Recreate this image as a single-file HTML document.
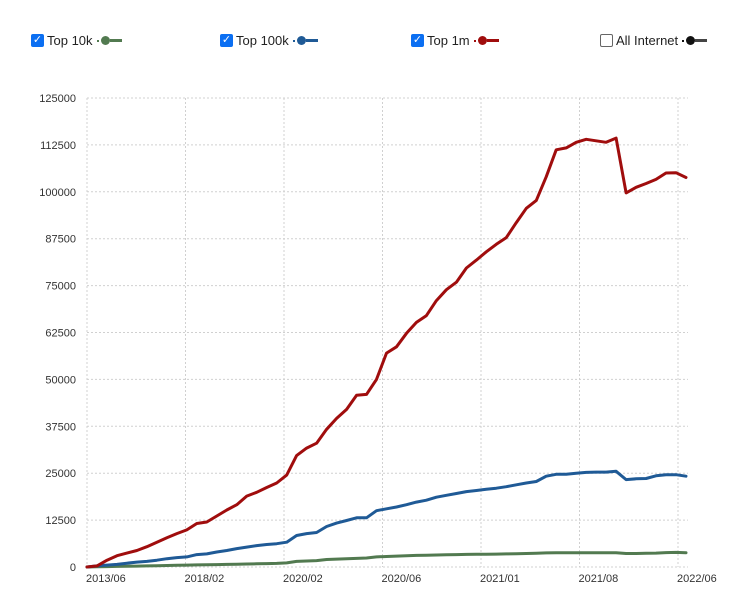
<!DOCTYPE html>
<html><head><meta charset="utf-8">
<style>
body{margin:0;background:#fff;width:749px;height:612px;overflow:hidden;font-family:"Liberation Sans",sans-serif;}
.leg{position:absolute;top:33px;font-size:13px;color:#222;display:flex;align-items:center;}
.cb{width:13px;height:13px;border-radius:2px;margin-right:3px;box-sizing:border-box;display:inline-flex;align-items:center;justify-content:center;color:#fff;font-size:11px;line-height:1}
.on{background:#0b6ff2;}
.off{border:1px solid #666;background:#fff;}
.mk{display:inline-flex;align-items:center;margin-left:4px}
.mk i{display:inline-block}
</style></head><body>
<div class="leg" style="left:31px"><span class="cb on">✓</span>Top 10k<span class="mk"><i style="width:2px;height:2px;background:#527a50"></i><i style="width:9px;height:9px;border-radius:50%;background:#527a50;margin-left:2px"></i><i style="width:12px;height:3px;background:#527a50"></i></span></div>
<div class="leg" style="left:220px"><span class="cb on">✓</span>Top 100k<span class="mk"><i style="width:2px;height:2px;background:#1f5a96"></i><i style="width:9px;height:9px;border-radius:50%;background:#1f5a96;margin-left:2px"></i><i style="width:12px;height:3px;background:#1f5a96"></i></span></div>
<div class="leg" style="left:411px"><span class="cb on">✓</span>Top 1m<span class="mk"><i style="width:2px;height:2px;background:#a00d0d"></i><i style="width:9px;height:9px;border-radius:50%;background:#a00d0d;margin-left:2px"></i><i style="width:12px;height:3px;background:#a00d0d"></i></span></div>
<div class="leg" style="left:600px"><span class="cb off"></span>All Internet<span class="mk"><i style="width:2px;height:2px;background:#111"></i><i style="width:9px;height:9px;border-radius:50%;background:#111;margin-left:2px"></i><i style="width:12px;height:3px;background:#444"></i></span></div>
<svg id="chart" width="749" height="612" style="position:absolute;left:0;top:0"></svg>
<script>
const yTicks=[0,12500,25000,37500,50000,62500,75000,87500,100000,112500,125000];
const xTickLabels=["2013/06","2018/02","2020/02","2020/06","2021/01","2021/08","2022/06"];
const top1m=[0,300,1800,3000,3700,4400,5400,6600,7800,8900,9900,11600,12000,13600,15200,16600,18900,19900,21200,22400,24500,29700,31700,33000,36700,39600,42000,45800,46000,50000,57000,58700,62300,65200,67000,71000,73900,75900,79700,81800,84000,86000,87800,91800,95600,97700,104000,111200,111700,113200,114000,113600,113200,114300,99700,101200,102200,103300,105000,105100,103800];
const top100k=[0,300,500,700,1000,1300,1500,1800,2200,2500,2700,3300,3500,4000,4400,4900,5300,5700,6000,6200,6600,8400,8900,9200,10800,11700,12400,13100,13100,15000,15500,16000,16600,17300,17800,18600,19100,19600,20100,20400,20700,21000,21400,21900,22400,22800,24200,24700,24700,25000,25200,25300,25300,25500,23300,23500,23600,24300,24600,24600,24200];
const top10k=[0,50,100,150,200,250,300,350,400,450,500,550,600,650,700,750,800,850,900,950,1100,1500,1600,1700,2000,2100,2200,2300,2400,2700,2800,2900,3000,3100,3150,3200,3250,3300,3350,3400,3400,3450,3500,3550,3600,3650,3750,3800,3800,3800,3800,3800,3800,3800,3600,3600,3650,3700,3850,3900,3800];
const NS="http://www.w3.org/2000/svg";
const svg=document.getElementById('chart');
const X0=87,X1=688,Y0=567,Y1=98,YMAX=125000;
const n=top1m.length;
function xs(i){return X0+i*(686-X0)/(n-1);}
function ys(v){return Y0-v/YMAX*(Y0-Y1);}
function mk(tag,attrs){const e=document.createElementNS(NS,tag);for(const k in attrs)e.setAttribute(k,attrs[k]);svg.appendChild(e);return e;}
yTicks.forEach(v=>{
  const l=mk('line',{x1:X0,x2:X1,y1:ys(v),y2:ys(v),stroke:'#d0d0d0','stroke-dasharray':'2,2','stroke-width':1});
  
  
  const t=mk('text',{x:76,y:ys(v)+4,'text-anchor':'end','font-size':'11',fill:'#333','font-family':'Liberation Sans, sans-serif'});
  t.textContent=v;
  
  
});
xTickLabels.forEach((s,i)=>{
  const gx=X0+i*98.5;
  const l=mk('line',{x1:gx,x2:gx,y1:Y1,y2:Y0,stroke:'#d0d0d0','stroke-dasharray':'2,2','stroke-width':1});
  
  
  const t=mk('text',{x:gx-1,y:582,'font-size':'11',fill:'#333','font-family':'Liberation Sans, sans-serif'});
  t.textContent=s;
  
  
});
function line(arr,color,name){
  const p=mk('polyline',{points:arr.map((v,i)=>xs(i).toFixed(1)+','+ys(v).toFixed(1)).join(' '),fill:'none',stroke:color,'stroke-width':3,'stroke-linejoin':'round','stroke-linecap':'round'});
  
  
}
line(top10k,'#527a50','top-10k-line');
line(top100k,'#1f5a96','top-100k-line');
line(top1m,'#a00d0d','top-1m-line');
</script>
</body></html>
